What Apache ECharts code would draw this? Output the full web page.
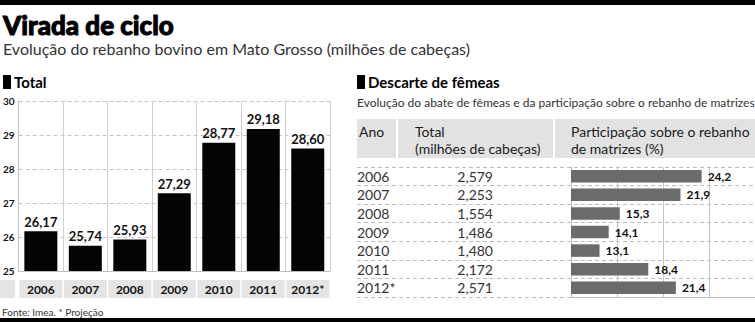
<!DOCTYPE html>
<html>
<head>
<meta charset="utf-8">
<script src="https://cdn.jsdelivr.net/npm/echarts@6/dist/echarts.min.js"></script>
<style>html,body{margin:0;padding:0;background:#fff}#c{width:755px;height:322px}</style>
</head>
<body>
<div id="c"></div>
<script>
// Left chart: total herd (millions of head)
const totalYears = ['2006','2007','2008','2009','2010','2011','2012*'];
const totalValues = [26.17, 25.74, 25.93, 27.29, 28.77, 29.18, 28.60];
const totalTicks = [25, 26, 27, 28, 29, 30];

// Right table/chart: female slaughter
const femYears = ['2006','2007','2008','2009','2010','2011','2012*'];
const femTotals = ['2,579','2,253','1,554','1,486','1,480','2,172','2,571'];
const femShare = [24.2, 21.9, 15.3, 14.1, 13.1, 18.4, 21.4];
const shareTicks = [10, 15, 20, 25, 30];

const FONT = 'Lato';
const fmt = (v, d) => v.toFixed(d).replace('.', ',');

const chart = echarts.init(document.getElementById('c'), null, {renderer: 'svg'});

const T = (x, y, text, size, weight, color, extra) => ({
  type: 'text', x: x, y: y,
  style: Object.assign({text: text, fontFamily: FONT, fontSize: size, fontWeight: weight, fill: color, textVerticalAlign: 'middle'}, extra || {})
});

chart.setOption({
  animation: false,
  textStyle: {fontFamily: FONT},
  grid: [
    {left: 16, top: 101, width: 314, height: 170},
    {left: 571, top: 167, width: 184, height: 130},
    {left: 357, top: 167, width: 398, height: 130}
  ],
  xAxis: [
    {type: 'category', gridIndex: 0, data: totalYears,
     axisLine: {show: true, lineStyle: {color: '#bdbdbd'}}, axisTick: {show: false},
     splitLine: {show: true, interval: 0, lineStyle: {color: '#cfcfcf', width: 1}},
     axisLabel: {interval: 0, margin: 9, color: '#111', fontFamily: FONT, fontWeight: 'bold', fontSize: 12,
       backgroundColor: '#e4e4e4', width: 43, height: 18, lineHeight: 18, align: 'center'}},
    {type: 'value', gridIndex: 1, min: 10, max: 30, interval: 5,
     axisLine: {show: true, lineStyle: {color: '#bdbdbd'}}, axisTick: {show: false}, axisLabel: {show: false},
     splitLine: {show: true, lineStyle: {color: '#c4c4c4'}}},
    {type: 'value', gridIndex: 2, show: false, splitLine: {show: false}}
  ],
  yAxis: [
    {type: 'value', gridIndex: 0, min: 25, max: 30, interval: 1,
     axisLine: {show: true, lineStyle: {color: '#bdbdbd'}}, axisTick: {show: false},
     splitLine: {show: true, lineStyle: {color: '#c4c4c4', type: [4, 3]}},
     axisLabel: {margin: 4, color: '#111', fontFamily: FONT, fontWeight: 'bold', fontSize: 10,
       formatter: v => totalTicks.indexOf(v) >= 0 ? String(v) : ''}},
    {type: 'category', gridIndex: 1, data: femYears, inverse: true,
     axisLine: {show: true, lineStyle: {color: '#bdbdbd'}}, axisTick: {show: false},
     splitLine: {show: false},
     axisLabel: {interval: 0, margin: 78,
       formatter: (v, i) => '{a|' + v + '}{b|' + femTotals[i] + '}',
       rich: {
         a: {width: 60, align: 'left', fontFamily: FONT, fontSize: 14, color: '#333'},
         b: {width: 76, align: 'right', fontFamily: FONT, fontSize: 14, color: '#333'}
       }}},
    {type: 'category', gridIndex: 2, data: femYears, inverse: true,
     axisLine: {show: false}, axisTick: {show: false}, axisLabel: {show: false},
     splitLine: {show: true, interval: 0, lineStyle: {color: '#bdbdbd', type: [4, 3]}}}
  ],
  series: [
    {type: 'bar', xAxisIndex: 0, yAxisIndex: 0, data: totalValues, barWidth: 33,
     itemStyle: {color: '#050505'},
     label: {show: true, position: 'top', distance: 3, color: '#111', fontFamily: FONT, fontWeight: 'bold', fontSize: 13,
       formatter: p => fmt(p.value, 2)}},
    {type: 'bar', xAxisIndex: 1, yAxisIndex: 1, data: femShare, barWidth: 12.5,
     itemStyle: {color: '#6b6b6b'},
     label: {show: true, position: 'right', distance: 6, color: '#111', fontFamily: FONT, fontWeight: 'bold', fontSize: 12,
       formatter: p => fmt(p.value, 1)}}
  ],
  graphic: [
    {type: 'rect', shape: {x: 0, y: 0, width: 755, height: 5}, style: {fill: '#000'}},
    {type: 'rect', shape: {x: 0, y: 318, width: 755, height: 4}, style: {fill: '#000'}},
    T(3, 25, 'Virada de ciclo', 26, 900, '#000', {stroke: '#000', lineWidth: 1}),
    T(3, 48, 'Evolução do rebanho bovino em Mato Grosso (milhões de cabeças)', 16, 'normal', '#333'),
    {type: 'rect', shape: {x: 3, y: 75, width: 8, height: 14}, style: {fill: '#000'}},
    T(14, 82, 'Total', 15, 'bold', '#000'),
    {type: 'rect', shape: {x: 357, y: 75, width: 8, height: 14}, style: {fill: '#000'}},
    T(368, 82, 'Descarte de fêmeas', 15, 'bold', '#000'),
    T(357, 102, 'Evolução do abate de fêmeas e da participação sobre o rebanho de matrizes', 12, 'normal', '#333'),
    {type: 'rect', shape: {x: 0, y: 280, width: 15, height: 18}, style: {fill: '#e4e4e4'}},
    {type: 'rect', shape: {x: 357, y: 119, width: 39, height: 39}, style: {fill: '#e2e2e2'}},
    {type: 'rect', shape: {x: 398, y: 119, width: 155, height: 39}, style: {fill: '#e2e2e2'}},
    {type: 'rect', shape: {x: 555, y: 119, width: 200, height: 39}, style: {fill: '#e2e2e2'}},
    T(359, 131, 'Ano', 14, 'normal', '#1a1a1a'),
    T(415, 131, 'Total', 14, 'normal', '#1a1a1a'),
    T(415, 148, '(milhões de cabeças)', 14, 'normal', '#1a1a1a'),
    T(571, 131, 'Participação sobre o rebanho', 14, 'normal', '#1a1a1a'),
    T(571, 148, 'de matrizes (%)', 14, 'normal', '#1a1a1a'),
    T(2, 312, 'Fonte: Imea. * Projeção', 10, 'normal', '#333')
  ]
});
</script>
</body>
</html>
